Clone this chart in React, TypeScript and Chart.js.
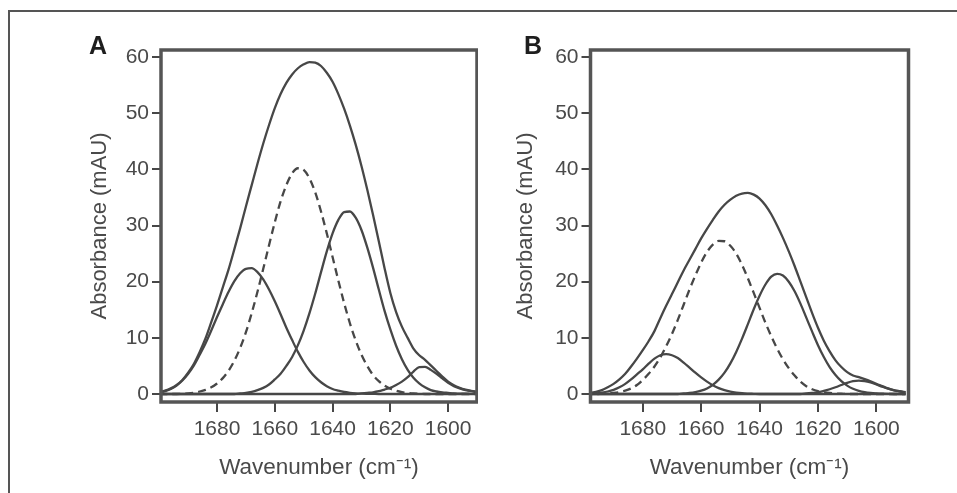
import React, { useEffect, useRef } from "react";
import { Chart, registerables } from "chart.js";

Chart.register(...registerables);

// Wavenumber grid (cm^-1), shared by every curve
const wavenumbers = [
  1700, 1698, 1696, 1694, 1692, 1690, 1688, 1686, 1684, 1682,
  1680, 1678, 1676, 1674, 1672, 1670, 1668, 1666, 1664, 1662,
  1660, 1658, 1656, 1654, 1652, 1650, 1648, 1646, 1644, 1642,
  1640, 1638, 1636, 1634, 1632, 1630, 1628, 1626, 1624, 1622,
  1620, 1618, 1616, 1614, 1612, 1610, 1608, 1606, 1604, 1602,
  1600, 1598, 1596, 1594, 1592, 1590,
];

const xTickValues = [1680, 1660, 1640, 1620, 1600];
const yTickValues = [0, 10, 20, 30, 40, 50, 60];

// Panel A
const aTotal = [
  0.35, 0.6, 1.0, 1.6, 2.5, 3.8, 5.4, 7.5, 9.9, 12.8,
  15.8, 19.0, 22.2, 25.8, 29.5, 33.4, 37.2, 41.0, 44.6, 47.9,
  50.9, 53.4, 55.4, 56.9, 58.0, 58.7, 59.1, 59.0, 58.4, 57.2,
  55.6, 53.4, 50.8, 47.8, 44.4, 40.6, 36.4, 31.9, 27.2, 22.4,
  18.0, 14.6, 12.0, 10.0, 8.1, 6.9, 6.1, 5.1, 4.1, 3.1,
  2.2, 1.55, 1.1, 0.78, 0.56, 0.4,
];
const aBand1 = [
  0.3, 0.5, 0.9, 1.5, 2.4, 3.6, 5.1, 7.0, 9.0, 11.3,
  13.7, 16.0, 18.2, 20.1, 21.5, 22.3, 22.4, 21.7, 20.4, 18.6,
  16.5, 14.2, 11.8, 9.6, 7.5, 5.7, 4.2, 3.0, 2.1, 1.4,
  0.9, 0.6, 0.36, 0.22, 0.13, 0.07, 0.04, 0.02, 0, 0,
  0, 0, 0, 0, 0, 0, 0, 0, 0, 0,
  0, 0, 0, 0, 0, 0,
];
const aBand2Dashed = [
  0, 0, 0, 0, 0.05, 0.12, 0.24, 0.45, 0.74, 1.19,
  1.87, 2.83, 4.16, 5.93, 8.21, 11.0, 14.4, 18.2, 22.3, 26.5,
  30.6, 34.3, 37.2, 39.3, 40.2, 39.9, 38.4, 35.9, 32.5, 28.6,
  24.4, 20.2, 16.2, 12.6, 9.55, 7.0, 5.0, 3.4, 2.3, 1.5,
  0.94, 0.58, 0.34, 0.2, 0.1, 0.05, 0, 0, 0, 0,
  0, 0, 0, 0, 0, 0,
];
const aBand3 = [
  0, 0, 0, 0, 0, 0, 0, 0, 0, 0,
  0, 0, 0, 0, 0.1, 0.2, 0.4, 0.7, 1.1, 1.7,
  2.6, 3.6, 5.0, 6.6, 8.7, 11.3, 14.4, 17.9, 21.7, 25.4,
  28.6, 31.0, 32.4, 32.5, 31.4, 29.2, 26.1, 22.5, 18.6, 14.8,
  11.5, 8.6, 6.2, 4.3, 2.9, 1.9, 1.2, 0.7, 0.45, 0.3,
  0.2, 0.1, 0.08, 0.05, 0.03, 0.02,
];
const aBand4 = [
  0, 0, 0, 0, 0, 0, 0, 0, 0, 0,
  0, 0, 0, 0, 0, 0, 0, 0, 0, 0,
  0, 0, 0, 0, 0, 0, 0, 0, 0, 0,
  0, 0, 0, 0, 0, 0.1, 0.2, 0.3, 0.5, 0.8,
  1.1, 1.6, 2.2, 3.0, 4.0, 4.8, 4.85, 4.3, 3.6, 2.8,
  2.0, 1.4, 1.0, 0.7, 0.5, 0.35,
];

// Panel B
const bTotal = [
  0.1, 0.2, 0.4, 0.7, 1.2, 1.8, 2.6, 3.6, 4.9, 6.3,
  7.8, 9.4, 11.2, 13.5, 15.7, 17.8, 19.9, 22.0, 23.9, 25.8,
  27.7, 29.4, 31.0, 32.5, 33.7, 34.6, 35.3, 35.7, 35.8, 35.5,
  34.8, 33.6, 32.0, 30.0, 27.8, 25.4, 22.8, 20.0, 17.2, 14.4,
  11.8, 9.5, 7.6, 6.0, 4.8, 3.9, 3.3, 3.0, 2.65, 2.25,
  1.8, 1.4, 1.0, 0.7, 0.5, 0.32,
];
const bBand1 = [
  0.03, 0.06, 0.12, 0.25, 0.45, 0.75, 1.2, 1.8, 2.6, 3.5,
  4.4, 5.4, 6.3, 6.9, 7.1, 6.9, 6.4, 5.6, 4.7, 3.8,
  2.95, 2.2, 1.55, 1.05, 0.68, 0.42, 0.25, 0.14, 0.08, 0.04,
  0, 0, 0, 0, 0, 0, 0, 0, 0, 0,
  0, 0, 0, 0, 0, 0, 0, 0, 0, 0,
  0, 0, 0, 0, 0, 0,
];
const bBand2Dashed = [
  0, 0, 0, 0.05, 0.1, 0.2, 0.35, 0.6, 1.0, 1.6,
  2.5, 3.6, 4.9, 6.5, 8.5, 10.7, 13.2, 15.9, 18.6, 21.1,
  23.4, 25.3, 26.6, 27.25, 27.2, 26.4, 25.0, 23.0, 20.6, 18.0,
  15.35, 12.7, 10.3, 8.1, 6.2, 4.6, 3.3, 2.2, 1.4, 0.85,
  0.5, 0.3, 0.18, 0.1, 0.05, 0, 0, 0, 0, 0,
  0, 0, 0, 0, 0, 0,
];
const bBand3 = [
  0, 0, 0, 0, 0, 0, 0, 0, 0, 0,
  0, 0, 0, 0, 0, 0, 0, 0.1, 0.19, 0.34,
  0.6, 1.0, 1.64, 2.56, 3.8, 5.46, 7.5, 9.86, 12.45, 15.1,
  17.5, 19.5, 20.9, 21.4, 21.1, 20.0, 18.3, 16.1, 13.6, 11.1,
  8.7, 6.6, 4.8, 3.4, 2.3, 1.5, 0.93, 0.56, 0.32, 0.18,
  0.1, 0.05, 0.02, 0, 0, 0,
];
const bBand4 = [
  0, 0, 0, 0, 0, 0, 0, 0, 0, 0,
  0, 0, 0, 0, 0, 0, 0, 0, 0, 0,
  0, 0, 0, 0, 0, 0, 0, 0, 0, 0,
  0, 0, 0, 0, 0, 0, 0, 0, 0.1, 0.18,
  0.3, 0.55, 0.85, 1.2, 1.6, 2.0, 2.3, 2.4, 2.3, 2.05,
  1.7, 1.3, 0.95, 0.65, 0.45, 0.3,
];

const LINE = "#474747";
const TEXT = "#4a4a4a";
const FONT = "'Liberation Sans', Arial, Helvetica, sans-serif";

const plotBox = {
  id: "plotBox",
  afterDraw(chart: any) {
    const { ctx, chartArea: a } = chart;
    ctx.save();
    ctx.strokeStyle = "#555555";
    ctx.lineWidth = 3.5;
    ctx.strokeRect(a.left, a.top, a.right - a.left, a.bottom - a.top);
    ctx.restore();
  },
};

function pts(values: number[]) {
  return wavenumbers.map((x, i) => ({ x, y: values[i] }));
}

function makeConfig(
  series: number[][],
  xMin: number,
  xMax: number,
  yAxisWidth: number,
  yTitleOffset: number,
  padRight: number
): any {
  const ds = series.map((s, i) => ({
    data: pts(s),
    borderColor: LINE,
    borderWidth: 2.3,
    borderDash: i === 2 ? [8, 5] : [],
    pointRadius: 0,
    fill: false,
    cubicInterpolationMode: "monotone",
  }));
  return {
    type: "line",
    data: { datasets: ds },
    plugins: [plotBox],
    options: {
      responsive: false,
      animation: false,
      devicePixelRatio: 1,
      layout: { padding: { left: 0, top: 50, right: padRight, bottom: 0 } },
      plugins: { legend: { display: false }, tooltip: { enabled: false } },
      scales: {
        x: {
          type: "linear",
          reverse: true,
          min: xMin,
          max: xMax,
          afterBuildTicks: (s: any) => {
            s.ticks = xTickValues.map((v) => ({ value: v }));
          },
          afterFit: (s: any) => {
            s.height = 91;
          },
          grid: {
            display: true,
            drawOnChartArea: false,
            drawTicks: true,
            tickLength: 10,
            color: LINE,
            lineWidth: 2,
          },
          border: { display: false },
          ticks: {
            color: TEXT,
            font: { family: FONT, size: 21 },
            padding: 5,
            maxRotation: 0,
            autoSkip: false,
            callback: (v: any) => String(v),
          },
          title: {
            display: true,
            text: "Wavenumber (cm\u207B\u00B9)",
            color: TEXT,
            font: { family: FONT, size: 22.5 },
            padding: { top: 0, bottom: 12 },
          },
        },
        y: {
          type: "linear",
          min: -1.42,
          max: 61.25,
          afterBuildTicks: (s: any) => {
            s.ticks = yTickValues.map((v) => ({ value: v }));
          },
          afterFit: (s: any) => {
            s.width = yAxisWidth;
          },
          grid: {
            display: true,
            drawOnChartArea: false,
            drawTicks: true,
            tickLength: 9,
            color: LINE,
            lineWidth: 2,
          },
          border: { display: false },
          ticks: {
            color: TEXT,
            font: { family: FONT, size: 21 },
            padding: 3,
            autoSkip: false,
            callback: (v: any) => String(v),
          },
          title: {
            display: true,
            text: "Absorbance (mAU)",
            color: TEXT,
            font: { family: FONT, size: 22 },
            padding: { top: yTitleOffset, bottom: 0 },
          },
        },
      },
    },
  };
}

export default function App() {
  const refA = useRef<HTMLCanvasElement>(null);
  const refB = useRef<HTMLCanvasElement>(null);

  useEffect(() => {
    const chartA = new Chart(
      refA.current as HTMLCanvasElement,
      makeConfig([aTotal, aBand1, aBand2Dashed, aBand3, aBand4], 1590, 1699.4, 161, 87, 1)
    );
    const chartB = new Chart(
      refB.current as HTMLCanvasElement,
      makeConfig([bTotal, bBand1, bBand2Dashed, bBand3, bBand4], 1589, 1697.9, 112.5, 35, 48.5)
    );
    return () => {
      chartA.destroy();
      chartB.destroy();
    };
  }, []);

  const letter: React.CSSProperties = {
    position: "absolute",
    top: 33,
    fontFamily: FONT,
    fontWeight: "bold",
    fontSize: 25,
    lineHeight: 1,
    color: "#1e1e1e",
  };

  return (
    <div style={{ position: "relative", width: 957, height: 493, overflow: "hidden", background: "#fff" }}>
      <style>{`html,body{margin:0;padding:0;background:#fff}`}</style>
      <div style={{ position: "absolute", left: 8, top: 10, width: 949, height: 2, background: "#555" }} />
      <div style={{ position: "absolute", left: 8, top: 10, width: 2, height: 483, background: "#555" }} />
      <canvas
        ref={refA}
        width={478}
        height={493}
        style={{ position: "absolute", left: 0, top: 0, width: 478, height: 493 }}
      />
      <canvas
        ref={refB}
        width={479}
        height={493}
        style={{ position: "absolute", left: 478, top: 0, width: 479, height: 493 }}
      />
      <div style={{ ...letter, left: 89 }}>A</div>
      <div style={{ ...letter, left: 524 }}>B</div>
    </div>
  );
}
